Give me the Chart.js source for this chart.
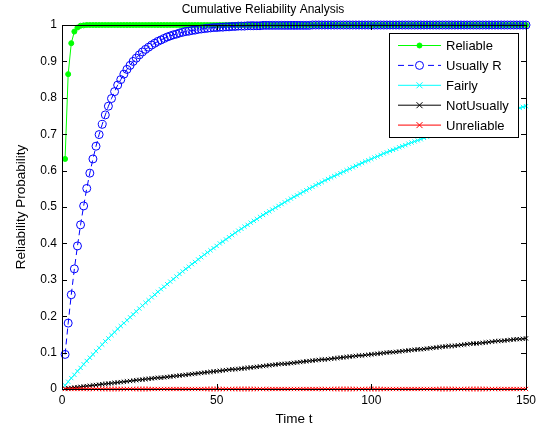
<!DOCTYPE html>
<html>
<head>
<meta charset="utf-8">
<script src="https://cdn.jsdelivr.net/npm/chart.js@4/dist/chart.umd.min.js"></script>
<style>
  html, body { margin: 0; padding: 0; background: #fff; }
  #wrap { width: 549px; height: 431px; }
</style>
</head>
<body>
<div id="wrap"><canvas id="c"></canvas></div>
<script>
const time = [
  1,2,3,4,5,6,7,8,9,10,11,12,13,14,15,16,17,18,19,20,21,22,23,24,25,26,27,28,29,30,
  31,32,33,34,35,36,37,38,39,40,41,42,43,44,45,46,47,48,49,50,51,52,53,54,55,56,57,58,59,60,
  61,62,63,64,65,66,67,68,69,70,71,72,73,74,75,76,77,78,79,80,81,82,83,84,85,86,87,88,89,90,
  91,92,93,94,95,96,97,98,99,100,101,102,103,104,105,106,107,108,109,110,111,112,113,114,115,116,117,118,119,120,
  121,122,123,124,125,126,127,128,129,130,131,132,133,134,135,136,137,138,139,140,141,142,143,144,145,146,147,148,149,150
];

const reliable = [
  0.632,0.865,0.950,0.982,0.993,0.998,0.999,1,1,1, 1,1,1,1,1,1,1,1,1,1, 1,1,1,1,1,1,1,1,1,1,
  1,1,1,1,1,1,1,1,1,1, 1,1,1,1,1,1,1,1,1,1, 1,1,1,1,1,1,1,1,1,1,
  1,1,1,1,1,1,1,1,1,1, 1,1,1,1,1,1,1,1,1,1, 1,1,1,1,1,1,1,1,1,1,
  1,1,1,1,1,1,1,1,1,1, 1,1,1,1,1,1,1,1,1,1, 1,1,1,1,1,1,1,1,1,1,
  1,1,1,1,1,1,1,1,1,1, 1,1,1,1,1,1,1,1,1,1, 1,1,1,1,1,1,1,1,1,1
];

const usuallyR = [
  0.095,0.181,0.259,0.330,0.393,0.451,0.503,0.551,0.593,0.632,
  0.667,0.699,0.727,0.753,0.777,0.798,0.817,0.835,0.850,0.865,
  0.878,0.889,0.900,0.909,0.918,0.926,0.933,0.939,0.945,0.950,
  0.955,0.959,0.963,0.967,0.970,0.973,0.975,0.978,0.980,0.982,
  0.983,0.985,0.986,0.988,0.989,0.990,0.991,0.992,0.993,0.993,
  0.994,0.994,0.995,0.995,0.996,0.996,0.997,0.997,0.997,0.998,
  0.998,0.998,0.998,0.998,0.999,0.999,0.999,0.999,0.999,0.999,
  0.999,0.999,0.999,0.999,0.999,0.999,0.999,0.999,0.999,0.999,
  1,1,1,1,1,1,1,1,1,1, 1,1,1,1,1,1,1,1,1,1, 1,1,1,1,1,1,1,1,1,1,
  1,1,1,1,1,1,1,1,1,1, 1,1,1,1,1,1,1,1,1,1, 1,1,1,1,1,1,1,1,1,1,
  1,1,1,1,1,1,1,1,1,1
];

const fairly = [
  0.010,0.020,0.030,0.039,0.049,0.058,0.068,0.077,0.086,0.095,
  0.104,0.113,0.122,0.131,0.139,0.148,0.156,0.165,0.173,0.181,
  0.189,0.197,0.205,0.213,0.221,0.229,0.237,0.244,0.252,0.259,
  0.267,0.274,0.281,0.288,0.295,0.302,0.309,0.316,0.323,0.330,
  0.336,0.343,0.349,0.356,0.362,0.369,0.375,0.381,0.387,0.393,
  0.400,0.405,0.411,0.417,0.423,0.429,0.435,0.440,0.446,0.451,
  0.457,0.462,0.467,0.473,0.478,0.483,0.488,0.493,0.498,0.503,
  0.508,0.513,0.518,0.523,0.528,0.532,0.537,0.542,0.546,0.551,
  0.555,0.560,0.564,0.568,0.573,0.577,0.581,0.585,0.589,0.593,
  0.597,0.601,0.605,0.609,0.613,0.617,0.621,0.625,0.628,0.632,
  0.636,0.639,0.643,0.647,0.650,0.654,0.657,0.660,0.664,0.667,
  0.670,0.674,0.677,0.680,0.683,0.686,0.690,0.693,0.696,0.699,
  0.702,0.705,0.708,0.711,0.713,0.716,0.719,0.722,0.725,0.727,
  0.730,0.733,0.736,0.738,0.741,0.743,0.746,0.748,0.751,0.753,
  0.756,0.758,0.761,0.763,0.765,0.768,0.770,0.772,0.775,0.777
];

const notUsually = [
  0.001,0.002,0.003,0.004,0.005,0.006,0.007,0.008,0.009,0.010,
  0.011,0.012,0.013,0.014,0.015,0.016,0.017,0.018,0.019,0.020,
  0.021,0.022,0.023,0.024,0.025,0.026,0.027,0.028,0.029,0.030,
  0.031,0.031,0.032,0.033,0.034,0.035,0.036,0.037,0.038,0.039,
  0.040,0.041,0.042,0.043,0.044,0.045,0.046,0.047,0.048,0.049,
  0.050,0.051,0.052,0.053,0.054,0.054,0.055,0.056,0.057,0.058,
  0.059,0.060,0.061,0.062,0.063,0.064,0.065,0.066,0.067,0.068,
  0.069,0.069,0.070,0.071,0.072,0.073,0.074,0.075,0.076,0.077,
  0.078,0.079,0.080,0.081,0.081,0.082,0.083,0.084,0.085,0.086,
  0.087,0.088,0.089,0.090,0.091,0.092,0.092,0.093,0.094,0.095,
  0.096,0.097,0.098,0.099,0.100,0.101,0.101,0.102,0.103,0.104,
  0.105,0.106,0.107,0.108,0.109,0.109,0.110,0.111,0.112,0.113,
  0.114,0.115,0.116,0.117,0.118,0.118,0.119,0.120,0.121,0.122,
  0.123,0.124,0.125,0.125,0.126,0.127,0.128,0.129,0.130,0.131,
  0.132,0.132,0.133,0.134,0.135,0.136,0.137,0.137,0.138,0.139
];

const unreliable = [
  0,0,0,0,0,0,0,0,0,0, 0,0,0,0,0,0,0,0,0,0, 0,0,0,0,0,0,0,0,0,0,
  0,0,0,0,0,0,0,0,0,0, 0,0,0,0,0,0,0,0,0,0, 0,0,0,0,0,0,0,0,0,0,
  0,0,0,0,0,0,0,0,0,0, 0,0,0,0,0,0,0,0,0,0, 0,0,0,0,0,0,0,0,0,0,
  0,0,0,0,0,0,0,0,0,0, 0,0,0,0,0,0,0,0,0,0, 0,0,0,0,0,0,0,0,0,0,
  0,0,0,0,0,0,0,0,0,0, 0,0,0,0,0,0,0,0,0,0, 0,0,0,0,0,0,0,0,0,0
];

const seriesNames = ['Reliable', 'Usually R', 'Fairly', 'NotUsually', 'Unreliable'];
const xTicks = [0, 50, 100, 150];
const yTicks = [0, 0.1, 0.2, 0.3, 0.4, 0.5, 0.6, 0.7, 0.8, 0.9, 1];
const yTickLabels = ['0', '0.1', '0.2', '0.3', '0.4', '0.5', '0.6', '0.7', '0.8', '0.9', '1'];

const FONT = 'Arial, "Liberation Sans", Helvetica, sans-serif';
const pts = (arr) => time.map((t, i) => ({ x: t, y: arr[i] }));

const styles = [
  { color: '#00ff00', pointStyle: 'circle', radius: 2.5, fill: '#00ff00', dash: [] },
  { color: '#0000ff', pointStyle: 'circle', radius: 4, fill: 'rgba(0,0,0,0)', dash: [6, 4] },
  { color: '#00ffff', pointStyle: 'crossRot', radius: 3, fill: '#00ffff', dash: [] },
  { color: '#000000', pointStyle: 'crossRot', radius: 3, fill: '#000000', dash: [] },
  { color: '#ff0000', pointStyle: 'crossRot', radius: 3, fill: '#ff0000', dash: [] }
];

const seriesData = [reliable, usuallyR, fairly, notUsually, unreliable];

const datasets = seriesData.map((arr, i) => ({
  label: seriesNames[i],
  data: pts(arr),
  borderColor: styles[i].color,
  backgroundColor: styles[i].fill,
  borderWidth: 1,
  borderDash: styles[i].dash,
  pointStyle: styles[i].pointStyle,
  pointRadius: styles[i].radius,
  pointBorderWidth: 1,
  pointBorderColor: styles[i].color,
  pointBackgroundColor: styles[i].fill,
  tension: 0,
  clip: false,
  order: 5 - i
}));

// MATLAB-style box, inward ticks and legend
const matlabAxes = {
  id: 'matlabAxes',
  afterDatasetsDraw(chart) {
    const { ctx, chartArea: a, scales } = chart;
    ctx.save();
    ctx.strokeStyle = '#000';
    ctx.lineWidth = 1;
    ctx.setLineDash([]);
    ctx.strokeRect(Math.round(a.left) + 0.5, Math.round(a.top) + 0.5,
      Math.round(a.right - a.left), Math.round(a.bottom - a.top));
    const tl = 5;
    ctx.beginPath();
    xTicks.forEach(v => {
      const x = Math.round(scales.x.getPixelForValue(v)) + 0.5;
      ctx.moveTo(x, a.bottom); ctx.lineTo(x, a.bottom - tl);
      ctx.moveTo(x, a.top); ctx.lineTo(x, a.top + tl);
    });
    yTicks.forEach(v => {
      const y = Math.round(scales.y.getPixelForValue(v)) + 0.5;
      ctx.moveTo(a.left, y); ctx.lineTo(a.left + tl, y);
      ctx.moveTo(a.right, y); ctx.lineTo(a.right - tl, y);
    });
    ctx.stroke();

    // legend
    const bx = 389.5, by = 33.5, bw = 129, bh = 104;
    ctx.fillStyle = '#fff';
    ctx.fillRect(bx, by, bw, bh);
    ctx.strokeRect(bx, by, bw, bh);
    ctx.font = '13px ' + FONT;
    ctx.textBaseline = 'middle';
    ctx.textAlign = 'left';
    chart.data.datasets.forEach((ds, i) => {
      const y = 45.5 + i * 19.9;
      const mx = 419.5;
      ctx.strokeStyle = ds.borderColor;
      ctx.setLineDash(ds.borderDash);
      ctx.beginPath();
      ctx.moveTo(398, y); ctx.lineTo(441, y);
      ctx.stroke();
      ctx.setLineDash([]);
      ctx.fillStyle = ds.pointBackgroundColor;
      ctx.strokeStyle = ds.pointBorderColor;
      ctx.beginPath();
      if (ds.pointStyle === 'circle') {
        if (ds.borderDash.length) {
          // white gap behind the open circle
          ctx.save();
          ctx.fillStyle = '#fff';
          ctx.fillRect(mx - 6, y - 2, 12, 4);
          ctx.restore();
        }
        ctx.arc(mx, y, ds.pointRadius, 0, Math.PI * 2);
        ctx.fill();
        ctx.stroke();
      } else {
        const r = ds.pointRadius;
        ctx.moveTo(mx - r, y - r); ctx.lineTo(mx + r, y + r);
        ctx.moveTo(mx - r, y + r); ctx.lineTo(mx + r, y - r);
        ctx.stroke();
      }
      ctx.fillStyle = '#000';
      ctx.fillText(ds.label, 446, y + 1);
    });
    ctx.restore();
  }
};

new Chart(document.getElementById('c'), {
  type: 'line',
  data: { datasets },
  options: {
    responsive: true,
    maintainAspectRatio: false,
    animation: false,
    events: [],
    layout: { padding: { left: 0, right: 23, top: 0, bottom: 0 } },
    plugins: {
      legend: { display: false },
      tooltip: { enabled: false },
      title: {
        display: true,
        text: 'Cumulative Reliability Analysis',
        color: '#000',
        font: { family: FONT, size: 12, weight: 'normal' },
        padding: { top: 2, bottom: 8.6 }
      }
    },
    scales: {
      x: {
        type: 'linear',
        min: 0, max: 150,
        afterBuildTicks: (s) => { s.ticks = xTicks.map(v => ({ value: v })); },
        afterFit: (s) => { s.height = 42; },
        grid: { display: false, drawTicks: false },
        border: { display: false },
        ticks: { color: '#000', font: { family: FONT, size: 12 }, padding: 4, maxRotation: 0 },
        title: {
          display: true, text: 'Time t', color: '#000',
          font: { family: FONT, size: 13.5 }, padding: { top: 4, bottom: 4 }
        }
      },
      y: {
        min: 0, max: 1,
        afterBuildTicks: (s) => { s.ticks = yTicks.map(v => ({ value: v })); },
        afterFit: (s) => { s.width = 62; },
        grid: { display: false, drawTicks: false },
        border: { display: false },
        ticks: {
          color: '#000', font: { family: FONT, size: 12 }, padding: 5,
          callback: (v, i) => yTickLabels[i]
        },
        title: {
          display: true, text: 'Reliability Probability', color: '#000',
          font: { family: FONT, size: 13.5 }, padding: { top: 13, bottom: 0 }
        }
      }
    }
  },
  plugins: [matlabAxes]
});
</script>
</body>
</html>
